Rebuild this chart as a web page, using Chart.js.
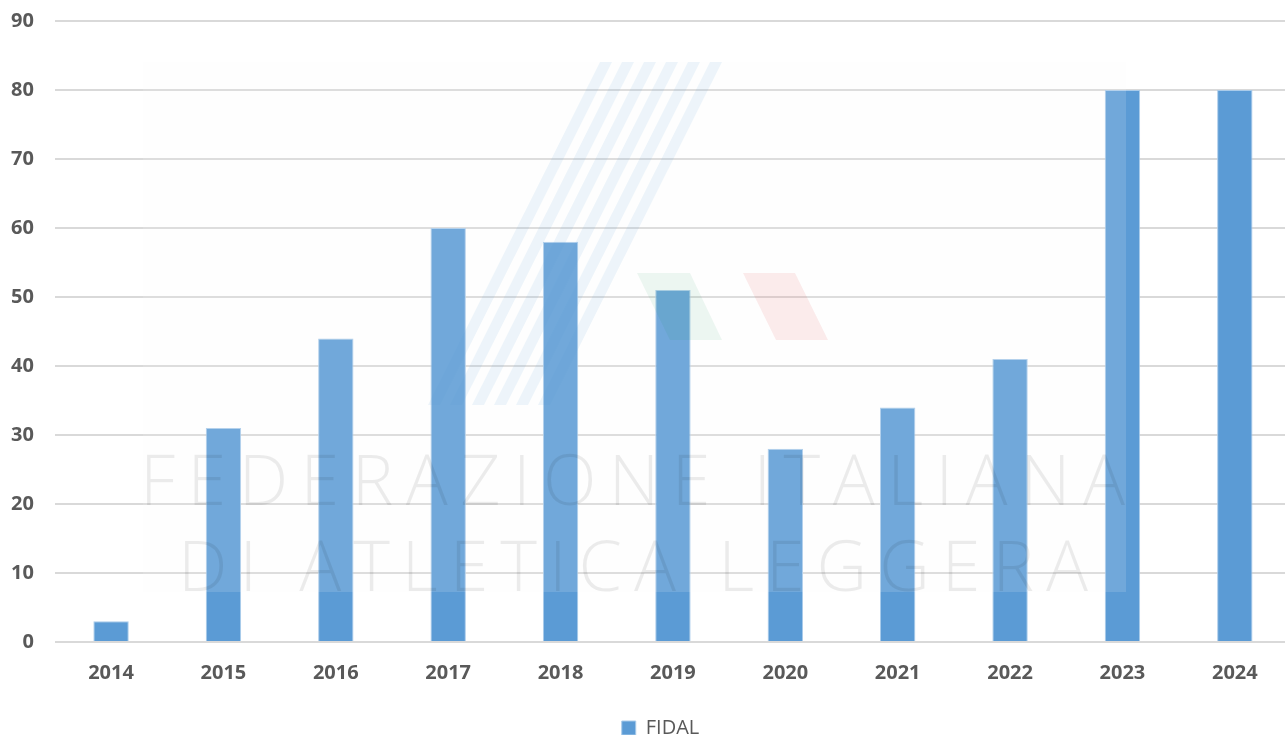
<!DOCTYPE html>
<html>
<head>
<meta charset="utf-8">
<script src="https://cdn.jsdelivr.net/npm/chart.js@4/dist/chart.umd.min.js"></script>
<style>
html,body{margin:0;padding:0;background:#fff;overflow:hidden;}
#wrap{position:relative;width:1291px;height:735px;}
</style>
</head>
<body>
<div id="wrap"><canvas id="c" width="1291" height="735"></canvas></div>
<script>
const categories = ['2014','2015','2016','2017','2018','2019','2020','2021','2022','2023','2024'];
const fidalValues = [3, 31, 44, 60, 58, 51, 28, 34, 41, 80, 80];
const seriesName = 'FIDAL';
const yTicks = [0,10,20,30,40,50,60,70,80,90];
const watermarkLines = ['FEDERAZIONE ITALIANA', 'DI ATLETICA LEGGERA'];

const watermark = {
  id: 'watermark',
  afterLayout(chart) {
    if (chart.legend) { chart.legend.left += 20; chart.legend.right += 20; }
  },
  afterDatasetsDraw(chart) {
    const ctx = chart.ctx;
    ctx.save();
    ctx.fillStyle = 'rgba(245,245,245,0.14)';
    ctx.fillRect(143, 62, 983, 530);
    ctx.fillStyle = 'rgba(91,155,213,0.10)';
    for (let i = 0; i < 6; i++) {
      const o = i * 22;
      ctx.beginPath();
      ctx.moveTo(600 + o, 62);
      ctx.lineTo(612 + o, 62);
      ctx.lineTo(440 + o, 405);
      ctx.lineTo(428 + o, 405);
      ctx.closePath();
      ctx.fill();
    }
    ctx.fillStyle = 'rgba(0,140,70,0.07)';
    ctx.beginPath();
    ctx.moveTo(637, 273); ctx.lineTo(690, 273); ctx.lineTo(722, 340); ctx.lineTo(670, 340); ctx.closePath(); ctx.fill();
    ctx.fillStyle = 'rgba(220,40,40,0.09)';
    ctx.beginPath();
    ctx.moveTo(743, 273); ctx.lineTo(795, 273); ctx.lineTo(828, 340); ctx.lineTo(776, 340); ctx.closePath(); ctx.fill();
    ctx.fillStyle = 'rgba(0,0,0,0.075)';
    ctx.textBaseline = 'alphabetic';
    ctx.textAlign = 'left';
    const specs = [
      {t: watermarkLines[0], x0: 140, x1: 1125, y: 505},
      {t: watermarkLines[1], x0: 178, x1: 1088, y: 591}
    ];
    ctx.font = '300 70px "Open Sans", "DejaVu Sans", sans-serif';
    specs.forEach(s => {
      ctx.letterSpacing = '0px';
      const w = ctx.measureText(s.t).width;
      const n = s.t.length - 1;
      const ls = ((s.x1 - s.x0) - w) / n;
      ctx.letterSpacing = ls + 'px';
      ctx.fillText(s.t, s.x0, s.y);
    });
    ctx.restore();
  }
};

const tickFont = {family: '"Open Sans", "Liberation Sans", Arial, sans-serif', size: 20, weight: 'bold'};

new Chart(document.getElementById('c'), {
  type: 'bar',
  data: {
    labels: categories,
    datasets: [{
      label: seriesName,
      data: fidalValues,
      backgroundColor: '#5B9BD5',
      borderColor: '#A9CBEA',
      borderWidth: 1,
      barPercentage: 0.63,
      categoryPercentage: 0.5
    }]
  },
  options: {
    responsive: false,
    animation: false,
    devicePixelRatio: 1,
    layout: {padding: {top: 0, left: -10, right: 0, bottom: -13}},
    plugins: {
      legend: {
        position: 'bottom',
        labels: {
          boxWidth: 14, boxHeight: 14,
          color: '#595959',
          font: {family: '"Open Sans", "Liberation Sans", Arial, sans-serif', size: 20},
          padding: 10
        }
      },
      tooltip: {enabled: false}
    },
    scales: {
      x: {
        grid: {display: false},
        border: {display: false},
        afterFit: (axis) => { axis.height += 12; },
        ticks: {color: '#595959', maxRotation: 0, font: tickFont, padding: 11}
      },
      y: {
        min: 0, max: 90,
        afterBuildTicks: (axis) => { axis.ticks = yTicks.map(v => ({value: v})); },
        afterFit: (axis) => { axis.paddingTop = 21; axis.paddingBottom = 0; },
        grid: {color: '#D9D9D9', lineWidth: 2, drawTicks: false},
        border: {display: false},
        ticks: {color: '#595959', font: tickFont, padding: 21}
      }
    }
  },
  plugins: [watermark]
});
</script>
</body>
</html>
